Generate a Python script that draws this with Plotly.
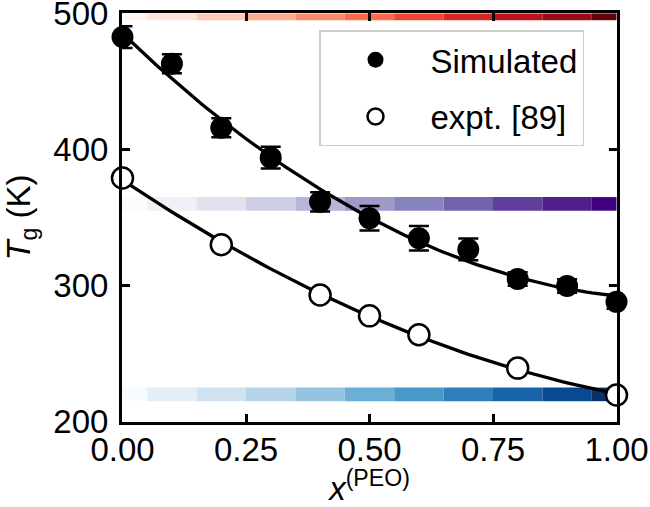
import numpy as np
import plotly.graph_objects as go
from plotly.colors import sample_colorscale

# ---- data ----
x_sim = [0.0, 0.1, 0.2, 0.3, 0.4, 0.5, 0.6, 0.7, 0.8, 0.9, 1.0]
tg_sim = [482.6, 463.0, 416.0, 394.0, 361.5, 349.4, 334.7, 326.5, 304.8, 299.7, 288.0]
tg_sim_err = [8, 7, 7, 8, 7, 9, 9, 8, 5, 5, 5]

x_expt = [0.0, 0.2, 0.4, 0.5, 0.6, 0.8, 1.0]
tg_expt = [379.0, 330.0, 293.0, 277.7, 263.8, 239.3, 219.5]

band_x = x_sim
band_centers = [500, 360, 220]
band_scales = ["Reds", "Purples", "Blues"]
band_halfheight = 5

x_ticks = [0.0, 0.25, 0.5, 0.75, 1.0]
x_ticktext = ["0.00", "0.25", "0.50", "0.75", "1.00"]
y_ticks = [200, 300, 400, 500]
y_ticktext = ["200", "300", "400", "500"]

FONT = "Liberation Sans, Arial, sans-serif"
FS = 33

fig = go.Figure()

# colour bands
shapes = []
n = len(band_x)
for c, cs in zip(band_centers, band_scales):
    cols = sample_colorscale(cs, [i / (n - 1) for i in range(n)])
    for i, xv in enumerate(band_x):
        shapes.append(dict(
            type="rect", xref="x", yref="y",
            x0=max(0.0, xv - 0.05), x1=min(1.0, xv + 0.05),
            y0=max(200, c - band_halfheight), y1=min(500, c + band_halfheight),
            fillcolor=cols[i], line=dict(width=0), layer="below"))

# fit curves
xf = np.linspace(0, 1, 101)
p_sim = np.polyfit(x_sim, tg_sim, 2)
p_exp = np.polyfit(x_expt, tg_expt, 2)
for p in (p_sim, p_exp):
    fig.add_trace(go.Scatter(x=xf, y=np.polyval(p, xf), mode="lines",
                             line=dict(color="black", width=3.3),
                             showlegend=False, hoverinfo="skip"))

fig.add_trace(go.Scatter(
    x=x_sim, y=tg_sim, mode="markers", name="Simulated",
    legendgroup="a",
    marker=dict(color="black", size=22, line=dict(width=0)),
    error_y=dict(type="data", array=tg_sim_err, color="black", thickness=2.5, width=10),
    cliponaxis=False))

fig.add_trace(go.Scatter(
    x=x_expt, y=tg_expt, mode="markers", name="expt. [89]",
    legendgroup="b",
    marker=dict(color="white", size=21, line=dict(color="black", width=2.5)),
    cliponaxis=False))

axis_common = dict(
    showline=True, linecolor="black", linewidth=3, mirror="ticks",
    ticks="inside", ticklen=8, tickwidth=2.5, tickcolor="black",
    showgrid=False, zeroline=False, automargin=False,
    ticklabeloverflow="allow",
    tickfont=dict(family=FONT, size=FS, color="black"),
)

eps_x = 1e-3
eps_y = 0.3
fig.update_xaxes(range=[0 - eps_x, 1 + eps_x], tickmode="array",
                 tickvals=x_ticks, ticktext=x_ticktext,
                 ticklabelstandoff=-4,
                 title=dict(text="<i>x</i><sup>(PEO)</sup>",
                            font=dict(family=FONT, size=FS, color="black")),
                 **axis_common)
fig.update_yaxes(range=[200 - eps_y, 500 + eps_y], tickmode="array",
                 tickvals=y_ticks, ticktext=y_ticktext,
                 ticklabelstandoff=4,
                 title=dict(text="<i>T</i><sub>g</sub> (K)",
                            font=dict(family=FONT, size=FS, color="black")),
                 **axis_common)

fig.update_layout(
    width=650, height=507,
    margin=dict(l=122, r=33, t=13, b=85),
    paper_bgcolor="white", plot_bgcolor="white",
    shapes=shapes,
    font=dict(family=FONT, size=FS, color="black"),
    legend=dict(x=0.398, y=0.958, xanchor="left", yanchor="top",
                bgcolor="rgba(255,255,255,0.85)", bordercolor="#cccccc",
                borderwidth=1.5, traceorder="grouped", tracegroupgap=11,
                itemwidth=100,
                font=dict(family=FONT, size=FS, color="black")),
)

fig.write_html("out.html")
